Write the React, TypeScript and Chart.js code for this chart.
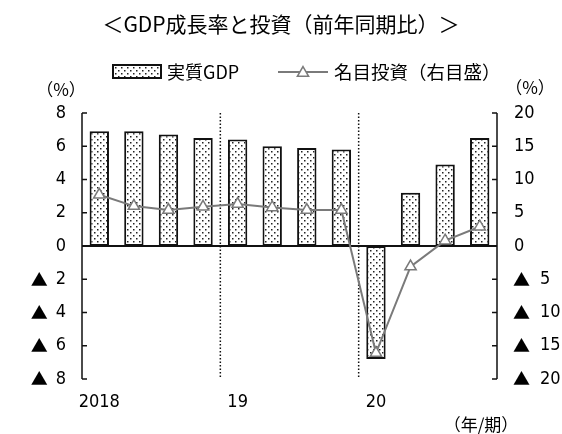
import React, { useEffect, useRef } from "react";
import { Chart, registerables } from "chart.js";

Chart.register(...registerables);

// Quarterly periods 2018Q1–2020Q4; only the first quarter of each year is labelled
const quarters = ["2018", "", "", "", "19", "", "", "", "20", "", "", ""];
// Real GDP growth, % y/y (left axis)
const realGdp = [6.9, 6.9, 6.7, 6.5, 6.4, 6.0, 5.9, 5.8, -6.8, 3.2, 4.9, 6.5];
// Nominal investment growth, % y/y (right axis)
const nominalInvestment = [7.7, 6.0, 5.4, 5.9, 6.3, 5.8, 5.4, 5.4, -16.1, -3.1, 0.8, 2.9];
// Axis ranges and steps
const leftRange = [-8, 8, 2];
const rightRange = [-20, 20, 5];
// Indices where a new year begins (dotted separators)
const yearStarts = [4, 8];

const titleText = "＜GDP成長率と投資（前年同期比）＞";
const gdpLabel = "実質GDP";
const investmentLabel = "名目投資（右目盛）";
const unitLabel = "（%）";
const periodLabel = "（年/期）";
const minusMark = "▲";

const JP_FONT = "'Noto Sans CJK JP', 'Noto Sans', sans-serif";
const NUM_FONT = "'Liberation Sans Narrow', 'DejaVu Sans Condensed', 'Liberation Sans', sans-serif";
const LINE_GREY = "#7a7a7a";
const TICK_SIZE = 18;

function makeDotPattern(): CanvasPattern | string {
  const c = document.createElement("canvas");
  c.width = 6;
  c.height = 6;
  const g = c.getContext("2d");
  if (!g) return "#fff";
  g.fillStyle = "#fff";
  g.fillRect(0, 0, 6, 6);
  g.fillStyle = "#222";
  g.fillRect(1, 1, 1.5, 1.5);
  g.fillRect(4, 4, 1.5, 1.5);
  return g.createPattern(c, "repeat") || "#fff";
}

// Draws "▲ n" style labels: the mark in the CJK face, digits in the narrow face
function drawSignedLabel(ctx: CanvasRenderingContext2D, value: number, x: number, y: number, side: "left" | "right") {
  const digits = `${Math.abs(value)}`;
  ctx.font = `${TICK_SIZE}px ${NUM_FONT}`;
  const dw = ctx.measureText(digits).width;
  ctx.textBaseline = "middle";
  if (side === "left") {
    ctx.textAlign = "right";
    ctx.font = `${TICK_SIZE}px ${NUM_FONT}`;
    ctx.fillText(digits, x, y);
    if (value < 0) {
      ctx.font = `17px ${JP_FONT}`;
      ctx.fillText(minusMark, x - dw - 8, y);
    }
  } else {
    ctx.textAlign = "left";
    if (value < 0) {
      ctx.font = `17px ${JP_FONT}`;
      ctx.fillText(minusMark, x - 1, y);
      ctx.font = `${TICK_SIZE}px ${NUM_FONT}`;
      ctx.fillText(digits, x + 26, y);
    } else {
      ctx.font = `${TICK_SIZE}px ${NUM_FONT}`;
      ctx.fillText(digits, x, y);
    }
  }
}

export default function App() {
  const canvasRef = useRef<HTMLCanvasElement | null>(null);

  useEffect(() => {
    const canvas = canvasRef.current;
    if (!canvas) return;
    const dots = makeDotPattern();

    const framePlugin = {
      id: "frame",
      // Axis frame, zero line and year separators, drawn right after the bars
      afterDatasetDraw(chart: any, args: any) {
        if (args.index !== 0) return;
        const { ctx, chartArea, scales } = chart;
        const { left, right, top, bottom } = chartArea;
        const y = scales.y;
        const y1 = scales.y1;
        const x = scales.x;
        ctx.save();
        ctx.strokeStyle = "#111";
        ctx.lineWidth = 1.5;
        ctx.beginPath();
        ctx.moveTo(left, top);
        ctx.lineTo(left, bottom);
        ctx.moveTo(right, top);
        ctx.lineTo(right, bottom);
        y.ticks.forEach((t: any) => {
          const py = y.getPixelForValue(t.value);
          ctx.moveTo(left, py);
          ctx.lineTo(left + 5, py);
        });
        y1.ticks.forEach((t: any) => {
          const py = y1.getPixelForValue(t.value);
          ctx.moveTo(right, py);
          ctx.lineTo(right - 5, py);
        });
        ctx.stroke();

        const y0 = y.getPixelForValue(0);
        ctx.lineWidth = 2.2;
        ctx.beginPath();
        ctx.moveTo(left, y0);
        ctx.lineTo(right, y0);
        ctx.stroke();

        ctx.lineWidth = 1.5;
        ctx.setLineDash([1.5, 2]);
        ctx.beginPath();
        yearStarts.forEach((i) => {
          const px = (x.getPixelForValue(i - 1) + x.getPixelForValue(i)) / 2;
          ctx.moveTo(px, top);
          ctx.lineTo(px, bottom - 2);
        });
        ctx.stroke();
        ctx.restore();
      },
      afterDraw(chart: any) {
        const { ctx, chartArea, scales } = chart;
        ctx.save();
        ctx.fillStyle = "#000";

        // Value-axis labels
        scales.y.ticks.forEach((t: any) => {
          drawSignedLabel(ctx, t.value, chartArea.left - 16, scales.y.getPixelForValue(t.value), "left");
        });
        scales.y1.ticks.forEach((t: any) => {
          drawSignedLabel(ctx, t.value, chartArea.right + 17, scales.y1.getPixelForValue(t.value), "right");
        });

        ctx.textBaseline = "middle";
        // Title
        ctx.font = `21px ${JP_FONT}`;
        ctx.textAlign = "center";
        ctx.fillText(titleText, 281, 24);

        // Legend: dotted box for GDP
        ctx.fillStyle = dots as any;
        ctx.fillRect(113, 65, 48, 13);
        ctx.strokeStyle = "#111";
        ctx.lineWidth = 2;
        ctx.strokeRect(113, 65, 48, 13);
        ctx.fillStyle = "#000";
        ctx.font = `18px ${JP_FONT}`;
        ctx.textAlign = "left";
        ctx.fillText(gdpLabel, 167, 72);

        // Legend: line with triangle for investment
        ctx.strokeStyle = LINE_GREY;
        ctx.lineWidth = 2;
        ctx.beginPath();
        ctx.moveTo(278, 72);
        ctx.lineTo(328, 72);
        ctx.stroke();
        const r = 6.5;
        ctx.beginPath();
        for (let k = 0; k < 3; k++) {
          const a = (k * 2 * Math.PI) / 3;
          const px = 303 + Math.sin(a) * r;
          const py = 73 - Math.cos(a) * r;
          if (k === 0) ctx.moveTo(px, py);
          else ctx.lineTo(px, py);
        }
        ctx.closePath();
        ctx.fillStyle = "#fff";
        ctx.fill();
        ctx.lineWidth = 1.5;
        ctx.stroke();
        ctx.fillStyle = "#000";
        ctx.font = `18.5px ${JP_FONT}`;
        ctx.fillText(investmentLabel, 334, 72);

        // Units and period label
        ctx.font = `17px ${JP_FONT}`;
        ctx.textAlign = "center";
        ctx.fillText(unitLabel, 61, 90);
        ctx.fillText(unitLabel, 530, 88);
        ctx.fillText(periodLabel, 481, 425);
        ctx.restore();
      },
    };

    const chart = new Chart(canvas, {
      type: "bar",
      data: {
        labels: quarters,
        datasets: [
          {
            type: "bar",
            label: gdpLabel,
            data: realGdp,
            yAxisID: "y",
            backgroundColor: dots as any,
            borderColor: "#111",
            borderWidth: 2,
            borderSkipped: false,
            barPercentage: 0.56,
            categoryPercentage: 1,
            order: 1,
          },
          {
            type: "line",
            label: investmentLabel,
            data: nominalInvestment,
            yAxisID: "y1",
            borderColor: LINE_GREY,
            borderWidth: 2,
            pointStyle: "triangle",
            pointRadius: 6.5,
            pointBackgroundColor: "#fff",
            pointBorderColor: LINE_GREY,
            pointBorderWidth: 1.5,
            tension: 0,
            order: 0,
          } as any,
        ],
      },
      options: {
        responsive: false,
        animation: false,
        events: [],
        layout: { padding: { top: 113, left: 0, right: 0, bottom: 0 } },
        plugins: {
          legend: { display: false },
          title: { display: false },
          tooltip: { enabled: false },
        },
        scales: {
          x: {
            type: "category",
            offset: true,
            grid: { display: false, drawTicks: false },
            border: { display: false },
            ticks: {
              autoSkip: false,
              maxRotation: 0,
              padding: 13,
              color: "#000",
              font: { size: TICK_SIZE, family: NUM_FONT },
            },
            afterFit(s: any) {
              s.height = 55;
            },
          },
          y: {
            position: "left",
            min: leftRange[0],
            max: leftRange[1],
            grid: { display: false, drawTicks: false },
            border: { display: false },
            ticks: { stepSize: leftRange[2], display: false },
            afterFit(s: any) {
              s.width = 82;
            },
          },
          y1: {
            position: "right",
            min: rightRange[0],
            max: rightRange[1],
            grid: { display: false, drawTicks: false },
            border: { display: false },
            ticks: { stepSize: rightRange[2], display: false },
            afterFit(s: any) {
              s.width = 65;
            },
          },
        },
      },
      plugins: [framePlugin],
    });

    return () => chart.destroy();
  }, []);

  return (
    <div style={{ position: "fixed", left: 0, top: 0, width: 562, height: 434, background: "#fff" }}>
      <canvas ref={canvasRef} width={562} height={434} style={{ display: "block" }} />
    </div>
  );
}
